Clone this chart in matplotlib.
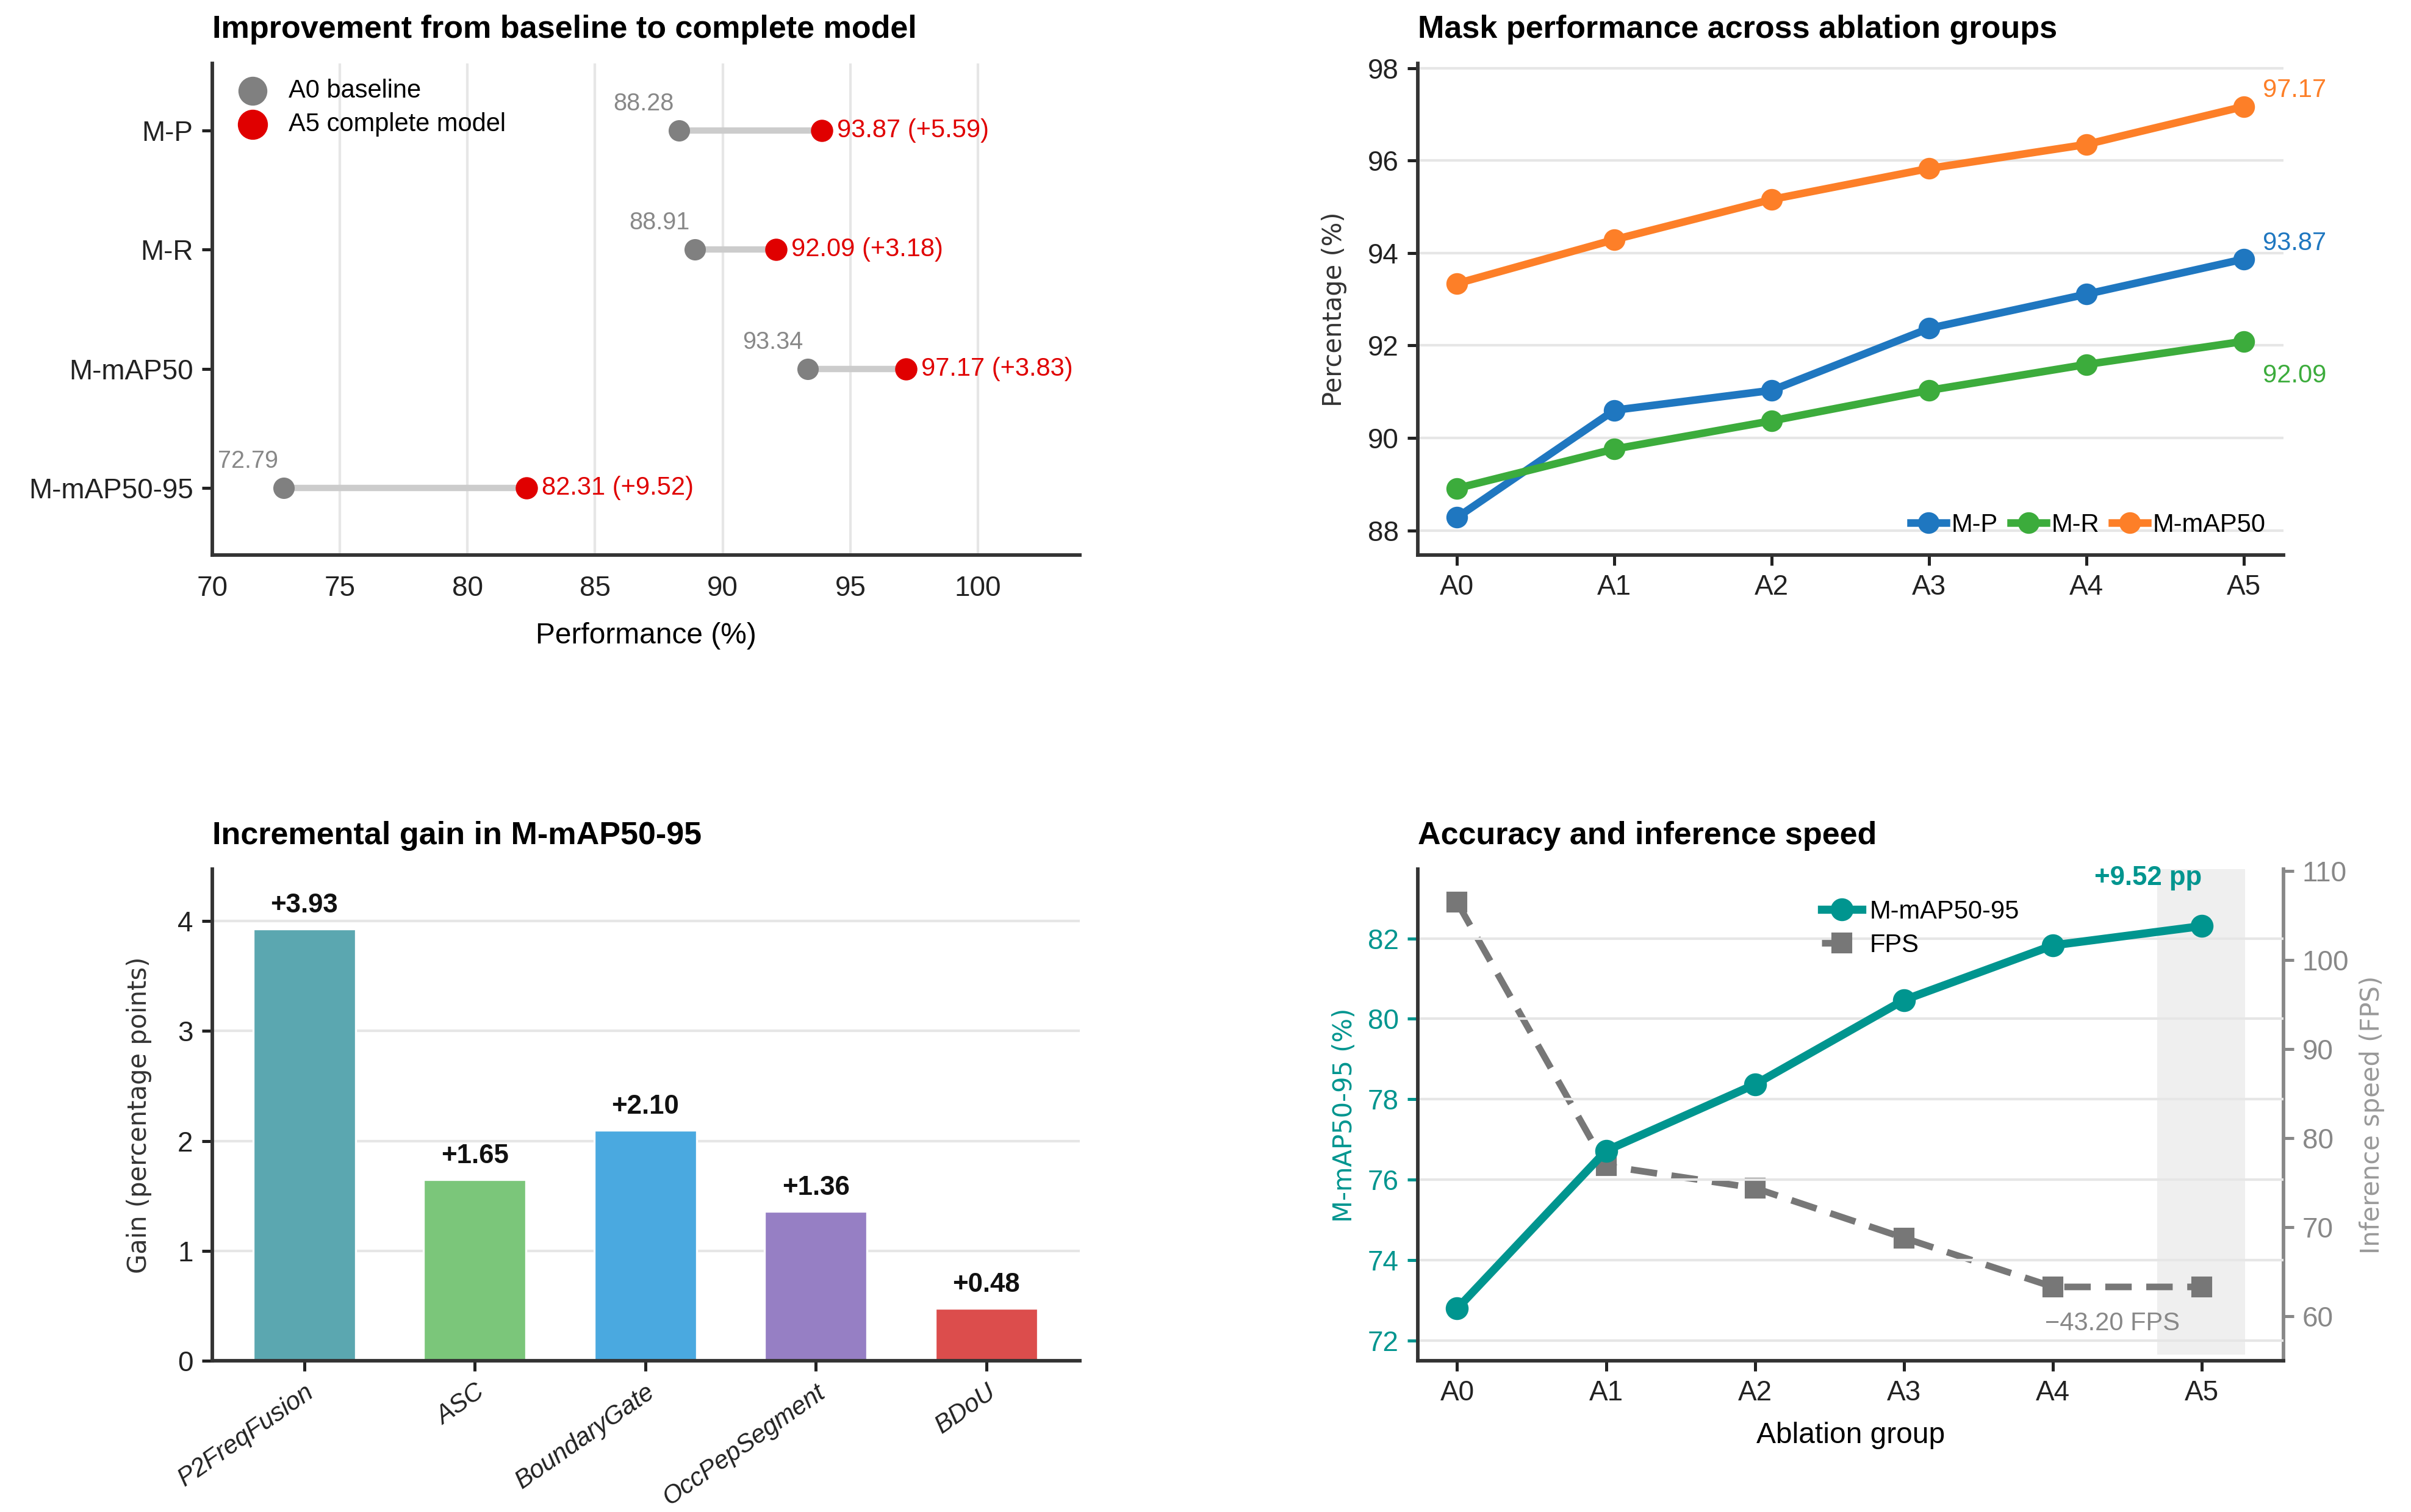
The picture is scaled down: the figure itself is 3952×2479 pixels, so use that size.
import matplotlib
matplotlib.use("Agg")
import matplotlib.pyplot as plt
import numpy as np

plt.rcParams['font.family'] = ['Liberation Sans', 'DejaVu Sans']

# ---------------- data ----------------
metrics = ['M-P', 'M-R', 'M-mAP50', 'M-mAP50-95']
a0_vals = [88.28, 88.91, 93.34, 72.79]
a5_vals = [93.87, 92.09, 97.17, 82.31]

groups = ['A0', 'A1', 'A2', 'A3', 'A4', 'A5']
mp_vals = [88.28, 90.60, 91.03, 92.37, 93.11, 93.87]
mr_vals = [88.91, 89.76, 90.37, 91.03, 91.59, 92.09]
map50_vals = [93.34, 94.29, 95.16, 95.83, 96.35, 97.17]

modules = ['P2FreqFusion', 'ASC', 'BoundaryGate', 'OccPepSegment', 'BDoU']
gains = [3.93, 1.65, 2.10, 1.36, 0.48]
bar_colors = ['#5ba7b0', '#7bc67a', '#4aa9e0', '#967fc4', '#dc4d4c']

map5095_vals = [72.79, 76.72, 78.37, 80.47, 81.83, 82.31]
fps_vals = [106.5, 76.9, 74.4, 68.8, 63.3, 63.3]

# ---------------- style ----------------
TEAL = '#00958f'
GRAY = '#808080'
RED = '#e00000'
BLUE = '#1f77c0'
GREEN = '#3cac3c'
ORANGE = '#fd7f28'
SPINE = '#333333'
GRID = '#e6e6e6'
TICK_FS = 11
TITLE_FS = 12.5
LAB_FS = 11.5

fig = plt.figure(figsize=(3952 / 300, 2479 / 300), dpi=300)
ax1 = fig.add_axes([0.088, 0.633, 0.360, 0.325])
ax2 = fig.add_axes([0.588, 0.633, 0.359, 0.325])
ax3 = fig.add_axes([0.088, 0.100, 0.360, 0.325])
ax4 = fig.add_axes([0.588, 0.100, 0.359, 0.325])


def style(ax):
    for s in ['top', 'right']:
        ax.spines[s].set_visible(False)
    for s in ['left', 'bottom']:
        ax.spines[s].set_color(SPINE)
        ax.spines[s].set_linewidth(1.4)
    ax.tick_params(labelsize=TICK_FS, colors='#222222', length=4, width=1.2)
    ax.set_axisbelow(True)


# ---------------- panel 1: dumbbell ----------------
style(ax1)
ypos = np.arange(len(metrics))
for y, a, b in zip(ypos, a0_vals, a5_vals):
    ax1.plot([a, b], [y, y], color='#cccccc', lw=2.5, zorder=1, solid_capstyle='round')
ax1.scatter(a0_vals, ypos, s=55, color=GRAY, zorder=3, label='A0 baseline')
ax1.scatter(a5_vals, ypos, s=60, color=RED, zorder=3, label='A5 complete model')
for y, a, b in zip(ypos, a0_vals, a5_vals):
    ax1.annotate(f'{a:.2f}', (a, y), xytext=(-2, 6), textcoords='offset points',
                 ha='right', va='bottom', fontsize=9.5, color='#888888')
    ax1.annotate(f'{b:.2f} (+{b - a:.2f})', (b, y), xytext=(6, 0), textcoords='offset points',
                 ha='left', va='center', fontsize=10, color=RED)
ax1.set_yticks(ypos)
ax1.set_yticklabels(metrics)
ax1.set_ylim(len(metrics) - 0.44, -0.56)
ax1.set_xlim(70, 104)
ax1.set_xticks([70, 75, 80, 85, 90, 95, 100])
ax1.grid(axis='x', color=GRID, lw=1.0)
ax1.tick_params(axis='x', length=0, pad=8)
ax1.set_xlabel('Performance (%)', fontsize=LAB_FS, labelpad=8)
ax1.set_title('Improvement from baseline to complete model', loc='left',
              fontsize=TITLE_FS, fontweight='bold', pad=10)
ax1.legend(loc='upper left', frameon=False, fontsize=10, markerscale=1.4,
           handletextpad=0.4, borderaxespad=0.2, labelspacing=0.35)

# ---------------- panel 2: lines ----------------
style(ax2)
x = np.arange(len(groups))
ax2.plot(x, mp_vals, '-o', color=BLUE, lw=3, ms=7.5, label='M-P')
ax2.plot(x, mr_vals, '-o', color=GREEN, lw=3, ms=7.5, label='M-R')
ax2.plot(x, map50_vals, '-o', color=ORANGE, lw=3, ms=7.5, label='M-mAP50')
ax2.text(x[-1] + 0.12, map50_vals[-1] + 0.35, f'{map50_vals[-1]:.2f}', color=ORANGE,
         fontsize=10, ha='left', va='center')
ax2.text(x[-1] + 0.12, mp_vals[-1] + 0.34, f'{mp_vals[-1]:.2f}', color=BLUE,
         fontsize=10, ha='left', va='center')
ax2.text(x[-1] + 0.12, mr_vals[-1] - 0.75, f'{mr_vals[-1]:.2f}', color=GREEN,
         fontsize=10, ha='left', va='center')
ax2.set_xticks(x)
ax2.set_xticklabels(groups)
ax2.set_xlim(-0.25, 5.25)
ax2.set_ylim(87.47, 98.1)
ax2.set_yticks([88, 90, 92, 94, 96, 98])
ax2.grid(axis='y', color=GRID, lw=1.0)
ax2.set_ylabel('Percentage (%)', fontsize=10, family='DejaVu Sans', color='#333333',
               labelpad=8)
ax2.set_title('Mask performance across ablation groups', loc='left',
              fontsize=TITLE_FS, fontweight='bold', pad=10)
ax2.legend(loc='lower right', ncol=3, frameon=False, fontsize=10, handlelength=1.4,
           handletextpad=0.2, columnspacing=0.5, borderaxespad=0.3)

# ---------------- panel 3: bars ----------------
style(ax3)
xb = np.arange(len(modules))
ax3.bar(xb, gains, width=0.6, color=bar_colors, edgecolor='white', lw=0.8, zorder=2)
for xi, g in zip(xb, gains):
    ax3.text(xi, g + 0.1, f'+{g:.2f}', ha='center', va='bottom', fontsize=10.5,
             fontweight='bold', color='#111111')
ax3.set_xticks(xb)
ax3.set_xticklabels(modules, rotation=35, ha='right', rotation_mode='anchor',
                    fontstyle='italic', fontsize=10)
ax3.set_xlim(-0.54, 4.55)
ax3.set_ylim(0, 4.47)
ax3.set_yticks([0, 1, 2, 3, 4])
ax3.grid(axis='y', color=GRID, lw=1.0)
ax3.set_ylabel('Gain (percentage points)', fontsize=10, family='DejaVu Sans', color='#333333',
               labelpad=10)
ax3.set_title('Incremental gain in M-mAP50-95', loc='left',
              fontsize=TITLE_FS, fontweight='bold', pad=10)

# ---------------- panel 4: dual axis ----------------
style(ax4)
l1, = ax4.plot(x, map5095_vals, '-o', color=TEAL, lw=3.2, ms=8, label='M-mAP50-95', zorder=4)
ax4.set_xlim(-0.265, 5.545)
ax4.set_ylim(71.49, 83.72)
ax4.set_yticks([72, 74, 76, 78, 80, 82])
ax4.set_xticks(x)
ax4.set_xticklabels(groups)
ax4.tick_params(axis='y', colors=TEAL)
ax4.spines['left'].set_color(SPINE)
ax4.grid(axis='y', color=GRID, lw=1.0)
ax4.set_ylabel('M-mAP50-95 (%)', fontsize=10, family='DejaVu Sans', color=TEAL)
ax4.set_xlabel('Ablation group', fontsize=LAB_FS, labelpad=6)
ax4.set_title('Accuracy and inference speed', loc='left',
              fontsize=TITLE_FS, fontweight='bold', pad=10)
ax4.text(5, 83.5, f'+{map5095_vals[-1] - map5095_vals[0]:.2f} pp', color=TEAL,
         fontsize=10.5, fontweight='bold', ha='right', va='center')

ax5 = ax4.twinx()
ax5.axvspan(4.7, 5.29, ymin=0.012, ymax=1.0, color='#efefef', zorder=0, lw=0)
l2, = ax5.plot(x, fps_vals, '--s', color='#777777', lw=2.6, ms=7, dashes=(4, 2.2),
               label='FPS', zorder=3)
ax5.set_ylim(55, 110.2)
ax5.set_yticks([60, 70, 80, 90, 100, 110])
for s in ['top', 'left', 'bottom']:
    ax5.spines[s].set_visible(False)
ax5.spines['right'].set_color('#888888')
ax5.spines['right'].set_linewidth(1.4)
ax5.tick_params(axis='y', labelsize=TICK_FS, colors='#888888', length=4, width=1.2)
ax5.set_ylabel('Inference speed (FPS)', fontsize=10, family='DejaVu Sans', color='#999999')
ax5.text(4.4, 59.2, f'\u2212{fps_vals[0] - fps_vals[-1]:.2f} FPS', color='#888888',
         fontsize=10, ha='center', va='center', zorder=5)
ax4.set_zorder(ax5.get_zorder() + 1)
ax4.patch.set_visible(False)
ax4.legend([l1, l2], ['M-mAP50-95', 'FPS'], loc='upper left', bbox_to_anchor=(0.44, 0.985),
           frameon=False, fontsize=10, handlelength=1.6, handletextpad=0.3,
           labelspacing=0.35)

fig.savefig('out.png', dpi=300)
